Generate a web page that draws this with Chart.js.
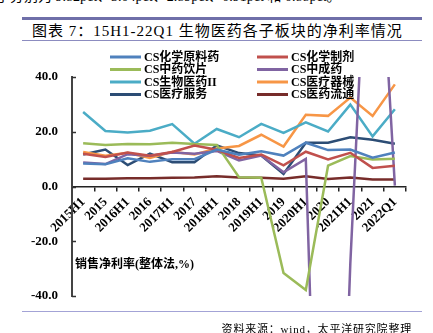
<!DOCTYPE html>
<html>
<head>
<meta charset="utf-8">
<script src="https://cdn.jsdelivr.net/npm/chart.js@4.4.1/dist/chart.umd.min.js"></script>
<style>
  body { margin:0; width:433px; height:333px; overflow:hidden; background:#fff; position:relative;
         font-family:"Liberation Serif","Noto Sans CJK SC",serif; color:#000; }
  #lead { position:absolute; left:-4px; top:-15px; font-size:14px; white-space:nowrap; }
  #rule1 { position:absolute; left:22px; top:17px; width:400px; height:3px; background:#6f6fa9; }
  #title { position:absolute; left:32px; top:22px; font-size:15px; line-height:18px; letter-spacing:1px; white-space:nowrap; }
  #rule2 { position:absolute; left:22px; top:40px; width:400px; height:1px; background:#8c8cc0; }
  #rule3 { position:absolute; left:22px; top:311px; width:400px; height:1px; background:#a3a3d6; }
  #source { position:absolute; right:21px; top:320px; font-size:11px; letter-spacing:0.8px; white-space:nowrap; }
  #wrap { position:absolute; left:0; top:0; width:433px; height:333px; }
</style>
</head>
<body>
<div id="lead">子分别为 9.82pct、3.04pct、2.89pct、0.91pct 和 0.88pct。</div>
<div id="rule1"></div>
<div id="title">图表 7：15H1-22Q1 生物医药各子板块的净利率情况</div>
<div id="rule2"></div>
<div id="wrap"><canvas id="chart" width="433" height="333"></canvas></div>
<div id="rule3"></div>
<div id="source">资料来源：wind，太平洋研究院整理</div>
<script>
// periods and net margin (%) per sub-sector
var labels = ['2015H1','2015','2016H1','2016','2017H1','2017','2018H1','2018','2019H1','2019','2020H1','2020','2021H1','2021','2022Q1'];

var chemApi   = [8.4, 8.1, 10.3, 9.0, 10.0, 10.0, 13.5, 11.6, 12.9, 11.3, 16.0, 13.3, 13.5, 10.5, 12.4];
var chemPrep  = [12.0, 10.8, 12.4, 11.2, 12.6, 15.0, 13.4, 10.4, 11.7, 7.7, 12.7, 9.9, 12.3, 6.8, 7.6];
var tcmPieces = [15.8, 15.2, 15.5, 15.4, 16.0, 15.5, 15.2, 3.4, 3.2, -31.6, -37.8, 7.6, 11.1, 9.9, 10.1];
var tcmPatent = [8.8, 8.2, 11.8, 11.2, 12.4, 12.0, 13.0, 9.5, 11.3, 5.2, 10.1, -250, -28, 140, 0.3];
var bioPharma = [27.2, 20.3, 19.7, 20.4, 22.8, 15.6, 21.0, 18.0, 22.9, 19.6, 23.4, 20.1, 29.9, 18.3, 28.2];
var devices   = [12.6, 11.2, 12.3, 10.4, 12.7, 11.7, 13.9, 14.8, 18.9, 14.6, 26.2, 25.8, 32.5, 25.8, 37.3];
var services  = [11.7, 13.5, 7.8, 12.0, 8.9, 8.9, 15.0, 12.2, 11.3, 4.6, 16.0, 16.0, 18.0, 17.1, 15.6];
var distrib   = [2.8, 2.8, 3.0, 3.0, 3.2, 3.3, 3.7, 3.3, 3.2, 2.8, 3.7, 2.7, 3.3, 2.6, 2.6];

var names  = ['CS化学原料药','CS化学制剂','CS中药饮片','CS中成药','CS生物医药II','CS医疗器械','CS医疗服务','CS医药流通'];
var colors = ['#4f81bd','#c0504d','#9bbb59','#8064a2','#4bacc6','#f79646','#2c4d75','#772c2a'];
var series = [chemApi, chemPrep, tcmPieces, tcmPatent, bioPharma, devices, services, distrib];

var yTitle = '销售净利率(整体法,%)';
var boldFont = 'bold 12px "Liberation Serif", "Noto Sans CJK SC", serif';

const extras = {
  id: 'extras',
  afterDraw: (chart) => {
    const {ctx, chartArea, scales} = chart;
    ctx.save();
    // inner tick marks on the y axis
    ctx.strokeStyle = '#333';
    ctx.lineWidth = 1.5;
    scales.y.ticks.forEach(t => {
      const py = Math.round(scales.y.getPixelForValue(t.value)) + 0.5;
      ctx.beginPath();
      ctx.moveTo(chartArea.left, py);
      ctx.lineTo(chartArea.left + 4, py);
      ctx.stroke();
    });
    // axis title inside the plot
    ctx.font = boldFont;
    ctx.fillStyle = '#000';
    ctx.textBaseline = 'middle';
    ctx.textAlign = 'left';
    ctx.fillText(yTitle, chartArea.left + 3, 265);
    // legend, two columns
    const colX = [110, 257];
    const rowY = [57, 69.5, 82, 94.5];
    names.forEach((n, i) => {
      const x = colX[i % 2], y = rowY[Math.floor(i / 2)];
      ctx.strokeStyle = colors[i];
      ctx.lineWidth = 3;
      ctx.beginPath();
      ctx.moveTo(x, y);
      ctx.lineTo(x + 31, y);
      ctx.stroke();
      ctx.fillStyle = '#000';
      ctx.fillText(n, x + 34, y + 0.5);
    });
    ctx.restore();
  }
};

var config = {
  type: 'line',
  data: {
    labels: labels,
    datasets: series.map((d, i) => ({
      label: names[i],
      data: d,
      borderColor: colors[i],
      backgroundColor: colors[i],
      borderWidth: 2.5,
      pointRadius: 0,
      fill: false,
      tension: 0
    }))
  },
  options: {
    responsive: false,
    animation: false,
    layout: { padding: { top: 77, right: 27, bottom: 37, left: 0 } },
    plugins: {
      legend: { display: false },
      tooltip: { enabled: false }
    },
    scales: {
      x: {
        type: 'category',
        offset: true,
        position: { y: 0 },
        grid: { drawOnChartArea: false, drawTicks: true, tickLength: 4, offset: true, color: '#222', lineWidth: 1.5 },
        border: { color: '#222', width: 1.5 },
        ticks: {
          autoSkip: false,
          maxRotation: 45,
          minRotation: 45,
          padding: 4,
          color: '#000',
          font: { family: '"Liberation Serif", serif', size: 13, weight: 'bold' }
        }
      },
      y: {
        min: -40,
        max: 40,
        afterFit: (scale) => { scale.width = 72; },
        grid: { display: false, drawTicks: false },
        border: { color: '#444', width: 2 },
        ticks: {
          stepSize: 20,
          padding: 14,
          color: '#000',
          font: { family: '"Liberation Serif", serif', size: 13, weight: 'bold' },
          callback: (v) => Number(v).toFixed(1)
        }
      }
    }
  },
  plugins: [extras]
};

window.onload = function() {
  var ctx = document.getElementById('chart').getContext('2d');
  window.netChart = new Chart(ctx, config);
};
</script>
</body>
</html>
